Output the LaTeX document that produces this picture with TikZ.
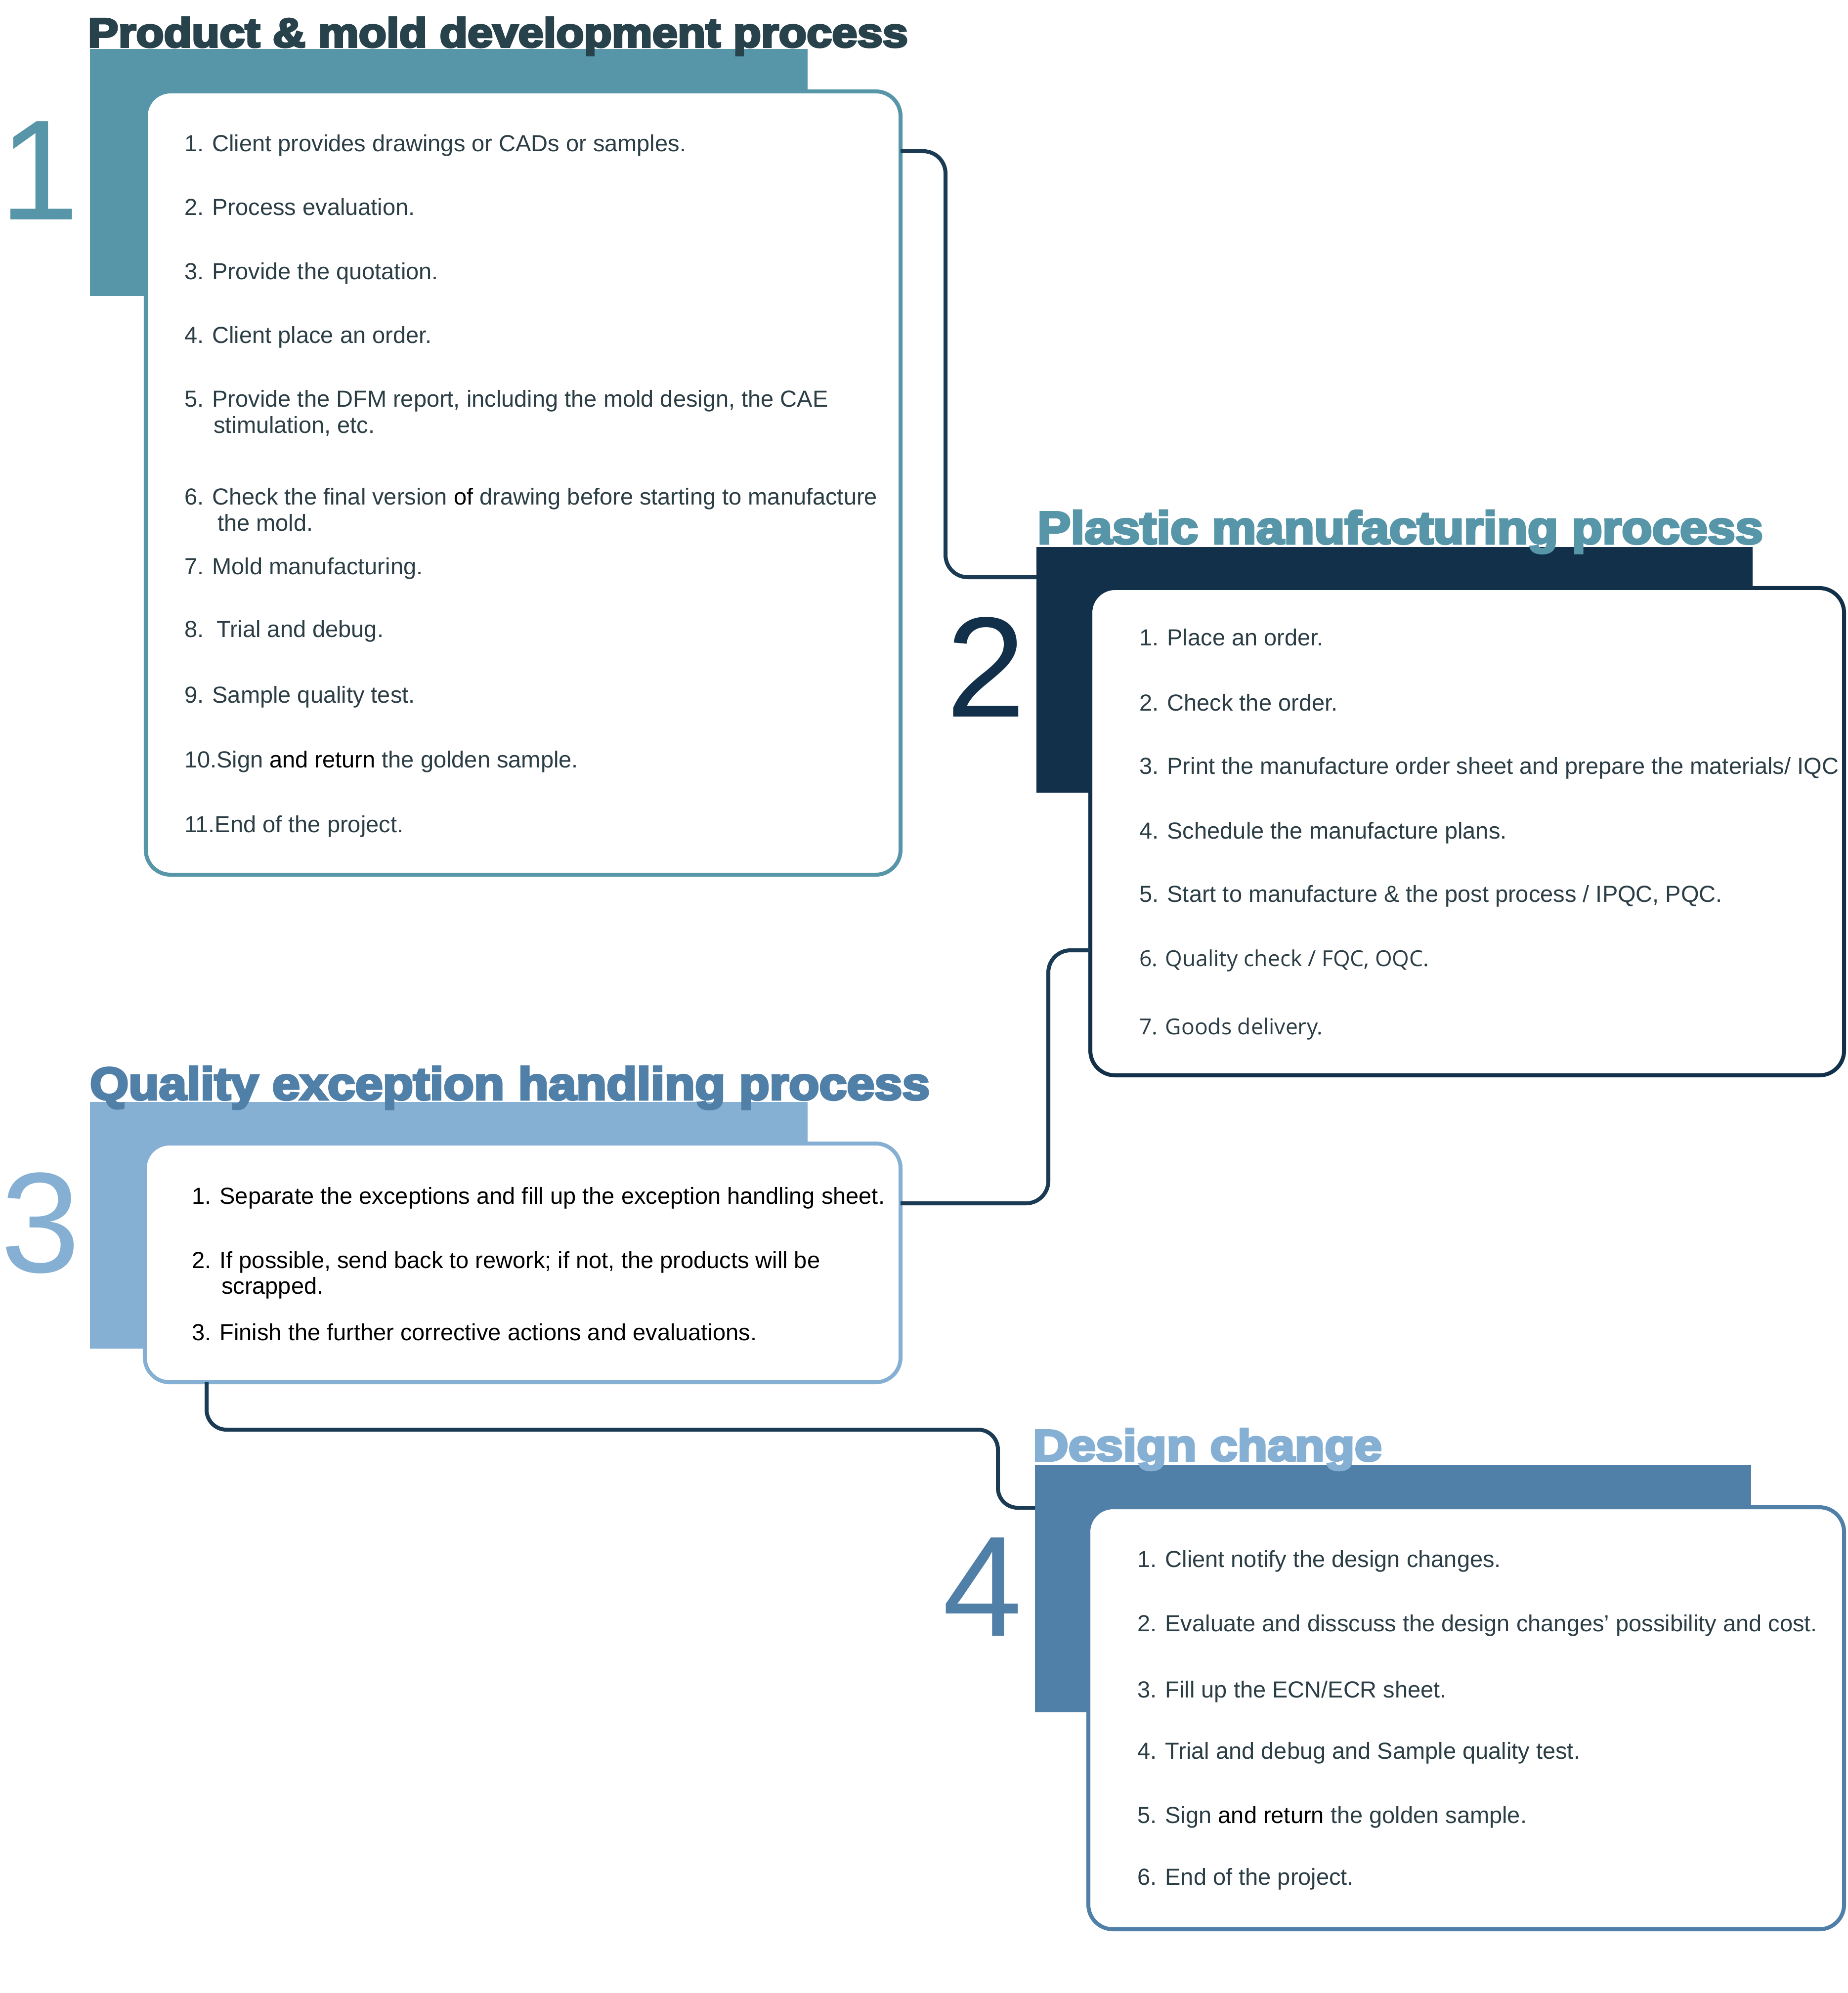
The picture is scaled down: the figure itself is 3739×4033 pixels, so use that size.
\documentclass[tikz,border=0pt]{standalone}
\usepackage{fontspec}
\usepackage{graphicx}
\setmainfont{Liberation Sans}
\newfontfamily\titlefont{Liberation Sans Bold}[FakeBold=5]
\newfontfamily\numfont{Liberation Sans}
\newfontfamily\segfont{Open Sans}
\definecolor{tealc}{HTML}{5795A8}
\definecolor{navyc}{HTML}{12304A}
\definecolor{linkc}{HTML}{1A3B53}
\definecolor{lightc}{HTML}{86B0D3}
\definecolor{steelc}{HTML}{507FA8}
\definecolor{ttlone}{HTML}{27424B}
\definecolor{txtc}{HTML}{2B3D45}
\begin{document}
\begin{tikzpicture}[x=0.2pt,y=-0.2pt,
  bar/.style={rectangle, draw=none, inner sep=0pt, outer sep=0pt},
  card/.style={rectangle, rounded corners=10pt, fill=white, line width=1.6pt, inner sep=0pt, outer sep=0pt},
  conn/.style={draw=linkc, line width=1.6pt, rounded corners=9pt},
  ttl/.style={anchor=base west, inner sep=0pt, outer sep=0pt, font=\titlefont},
  item/.style={anchor=base west, inner sep=0pt, outer sep=0pt, text=txtc, font=\fontsize{9.4}{11}\selectfont},
  bignum/.style={anchor=base, inner sep=0pt, outer sep=0pt, font=\numfont\fontsize{57.8}{60}\selectfont}]
\useasboundingbox (0,0) rectangle (3739,4033);

% colour bars
\node[bar, fill=tealc, minimum width=290.4pt, minimum height=100pt] (r1) at (908,349) {};
\node[bar, fill=navyc, minimum width=289.8pt, minimum height=99.4pt] (r2) at (2821.5,1355.5) {};
\node[bar, fill=lightc, minimum width=290.4pt, minimum height=99.8pt] (r3) at (908,2479.5) {};
\node[bar, fill=steelc, minimum width=289.8pt, minimum height=100pt] (r4) at (2818.5,3215) {};

% cards
\node[card, draw=tealc, minimum width=305.4pt, minimum height=317pt] (b1) at (1058.5,977.5) {};
\node[card, draw=navyc, minimum width=305pt, minimum height=197.2pt] (b2) at (2968.5,1683) {};
\node[card, draw=lightc, minimum width=305.8pt, minimum height=96.6pt] (b3) at (1057.5,2555.5) {};
\node[card, draw=steelc, minimum width=305.8pt, minimum height=170.8pt] (b4) at (2966.5,3477) {};

% connectors
\draw[conn] (b1.east |- 0,306) -| (1913,1168) -- (r2.west |- 0,1168);
\draw[conn] (b2.west |- 0,1923) -| (2121,2435) -- (b3.east |- 0,2435);
\draw[conn, rounded corners=8pt] (b3.south -| 418,0) |- (2019,2893) |- (r4.west |- 0,3051);

% titles
\node[ttl, text=ttlone] (t1) at (178,95) {\resizebox{331.8pt}{12pt}{Product \& mold development process}};
\node[ttl, text=tealc] (t2) at (2099,1100) {\resizebox{293.6pt}{13.4pt}{Plastic manufacturing process}};
\node[ttl, text=steelc] (t3) at (182,2225) {\resizebox{339.8pt}{13.4pt}{Quality exception handling process}};
\node[ttl, text=lightc] (t4) at (2090,2956) {\resizebox{141.2pt}{13pt}{Design change}};

% big numbers
\node[bignum, text=tealc] (n1) at (80,445) {1};
\node[bignum, text=navyc] (n2) at (1995,1450) {2};
\node[bignum, text=lightc] (n3) at (82,2574) {3};
\node[bignum, text=steelc] (n4) at (1988,3310) {4};

% card 1 items
\node[item] (a1) at (373,307) {1. Client provides drawings or CADs or samples.};
\node[item] (a2) at (373,436) {2. Process evaluation.};
\node[item] (a3) at (373,566) {3. Provide the quotation.};
\node[item] (a4) at (373,695) {4. Client place an order.};
\node[item] (a5) at (373,824) {5. Provide the DFM report, including the mold design, the CAE};
\node[item] (a5b) at (432,877) {stimulation, etc.};
\node[item] (a6) at (373,1021) {6. Check the final version \textcolor{black}{of} drawing before starting to manufacture};
\node[item] (a6b) at (440,1075) {the mold.};
\node[item] (a7) at (373,1163) {7. Mold manufacturing.};
\node[item] (a8) at (373,1289) {8.\ \ Trial and debug.};
\node[item] (a9) at (373,1422) {9. Sample quality test.};
\node[item] (a10) at (373,1553) {10.Sign \textcolor{black}{and return} the golden sample.};
\node[item] (a11) at (373,1684) {11.End of the project.};

% card 2 items
\node[item] (p1) at (2305,1306) {1. Place an order.};
\node[item] (p2) at (2305,1438) {2. Check the order.};
\node[item] (p3) at (2305,1566) {3. Print the manufacture order sheet and prepare the materials/ IQC};
\node[item] (p4) at (2305,1697) {4. Schedule the manufacture plans.};
\node[item] (p5) at (2305,1825) {5. Start to manufacture \& the post process / IPQC, PQC.};
\node[item, font=\segfont\fontsize{8.9}{11}\selectfont] (p6) at (2305,1955) {6. Quality check / FQC, OQC.};
\node[item, font=\segfont\fontsize{8.9}{11}\selectfont] (p7) at (2305,2093) {7. Goods delivery.};

% card 3 items
\node[item, text=black] (q1) at (388,2436) {1. Separate the exceptions and fill up the exception handling sheet.};
\node[item, text=black] (q2) at (388,2566) {2. If possible, send back to rework; if not, the products will be};
\node[item, text=black] (q2b) at (448,2618) {scrapped.};
\node[item, text=black] (q3) at (388,2712) {3. Finish the further corrective actions and evaluations.};

% card 4 items
\node[item] (d1) at (2301,3171) {1. Client notify the design changes.};
\node[item] (d2) at (2301,3301) {2. Evaluate and disscuss the design changes' possibility and cost.};
\node[item] (d3) at (2301,3435) {3. Fill up the ECN/ECR sheet.};
\node[item] (d4) at (2301,3559) {4. Trial and debug and Sample quality test.};
\node[item] (d5) at (2301,3689) {5. Sign \textcolor{black}{and return} the golden sample.};
\node[item] (d6) at (2301,3814) {6. End of the project.};
\end{tikzpicture}
\end{document}
